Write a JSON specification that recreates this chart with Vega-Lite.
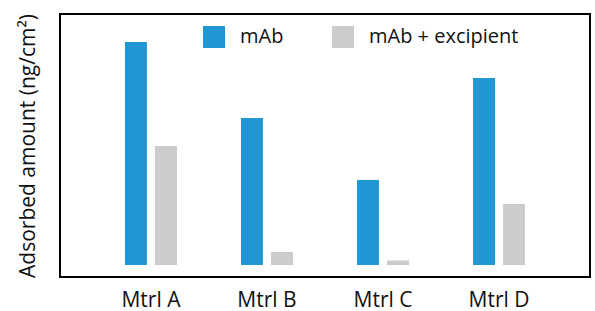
{
  "$schema": "https://vega.github.io/schema/vega-lite/v6.json",
  "width": 530,
  "height": 263,
  "autosize": "none",
  "padding": {"left": 60, "top": 14, "right": 5, "bottom": 34},
  "background": "white",
  "config": {
    "font": "Open Sans",
    "view": {"stroke": "black", "strokeWidth": 2}
  },
  "data": {
    "values": [
      {"material": "Mtrl A", "sample": "mAb", "amount": 223},
      {"material": "Mtrl A", "sample": "mAb + excipient", "amount": 119},
      {"material": "Mtrl B", "sample": "mAb", "amount": 147},
      {"material": "Mtrl B", "sample": "mAb + excipient", "amount": 13},
      {"material": "Mtrl C", "sample": "mAb", "amount": 85},
      {"material": "Mtrl C", "sample": "mAb + excipient", "amount": 4.5},
      {"material": "Mtrl D", "sample": "mAb", "amount": 187},
      {"material": "Mtrl D", "sample": "mAb + excipient", "amount": 61}
    ]
  },
  "mark": {"type": "bar"},
  "encoding": {
    "x": {
      "field": "material",
      "type": "nominal",
      "scale": {"paddingInner": 0.552, "paddingOuter": 0.56},
      "axis": {
        "title": null,
        "labelAngle": 0,
        "ticks": false,
        "domain": false,
        "labelFontSize": 21,
        "labelColor": "#111",
        "labelPadding": 12
      }
    },
    "xOffset": {
      "field": "sample",
      "type": "nominal",
      "scale": {"paddingInner": 0.27, "paddingOuter": 0}
    },
    "y": {
      "field": "amount",
      "type": "quantitative",
      "scale": {"domain": [-12, 251], "nice": false, "zero": false},
      "axis": {
        "title": "Adsorbed amount (ng/cm²)",
        "titleFontSize": 21,
        "titleFontWeight": "normal",
        "titleColor": "#111",
        "titlePadding": 22,
        "labels": false,
        "ticks": false,
        "domain": false,
        "grid": false
      }
    },
    "y2": {"datum": 0},
    "color": {
      "field": "sample",
      "type": "nominal",
      "scale": {"domain": ["mAb", "mAb + excipient"], "range": ["#2196d3", "#cccccc"]},
      "legend": {
        "title": null,
        "orient": "none",
        "direction": "horizontal",
        "legendX": 143,
        "legendY": 12,
        "symbolType": "square",
        "symbolSize": 484,
        "symbolStrokeWidth": 0,
        "symbolOpacity": 1,
        "labelFontSize": 20,
        "labelColor": "#111",
        "labelOffset": 15,
        "columnPadding": 48
      }
    }
  }
}
